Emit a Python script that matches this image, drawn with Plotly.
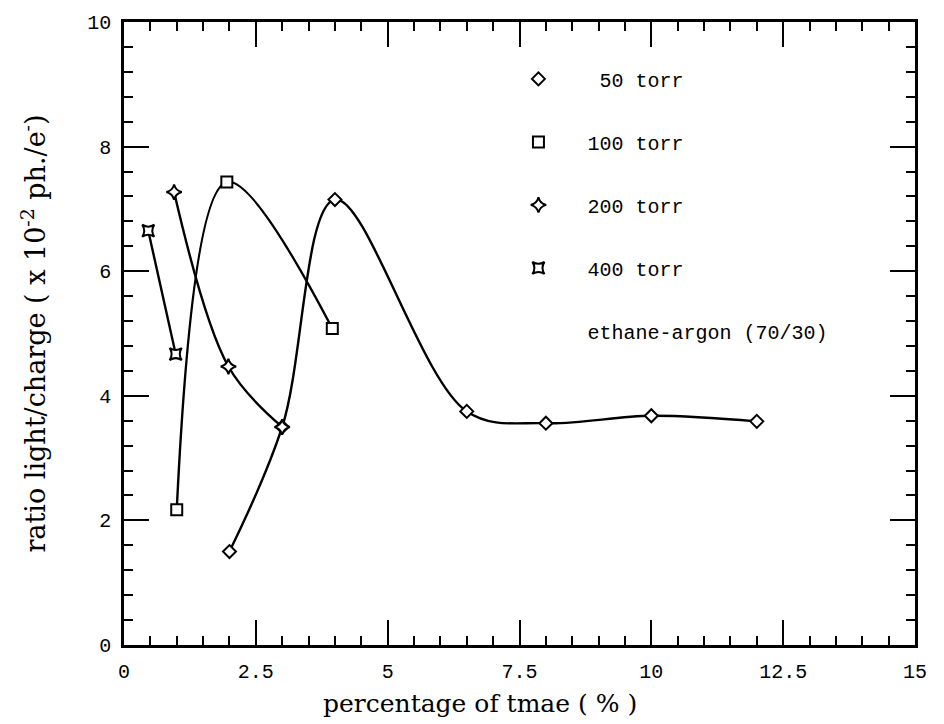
import plotly.graph_objects as go

# ---- data ----
x_50 = [2.0, 3.0, 4.0, 6.5, 8.0, 10.0, 12.0]
y_50 = [1.50, 3.50, 7.15, 3.75, 3.56, 3.68, 3.59]

x_100 = [1.0, 1.95, 3.95]
y_100 = [2.17, 7.43, 5.08]

x_200 = [0.95, 1.98, 3.0]
y_200 = [7.27, 4.47, 3.50]

x_400 = [0.46, 0.98]
y_400 = [6.65, 4.67]

names = ["\u00a050 torr", "100 torr", "200 torr", "400 torr"]
note = "ethane-argon (70/30)"
x_title = "percentage of tmae ( % )"
y_title = "ratio light/charge ( x 10<sup>-2</sup> ph./e<sup>-</sup>)"

series = [
    (x_50, y_50, "diamond", 10, "spline"),
    (x_100, y_100, "square", 11, "spline"),
    (x_200, y_200, "star-diamond", 11, "spline"),
    (x_400, y_400, "star-square", 11, "linear"),
]

fig = go.Figure()

for i, (xs, ys, sym, sz, shape) in enumerate(series):
    fig.add_trace(go.Scatter(
        x=xs, y=ys, mode="lines", showlegend=False,
        line=dict(color="black", width=2.4, shape=shape, smoothing=1.0),
        hoverinfo="skip"))
for i, (xs, ys, sym, sz, shape) in enumerate(series):
    fig.add_trace(go.Scatter(
        x=xs, y=ys, mode="markers", name=names[i], legendgroup=f"g{i}",
        marker=dict(symbol=sym, size=sz, color="white",
                    line=dict(color="black", width=2))))

fig.add_trace(go.Scatter(
    x=[None], y=[None], mode="markers", name=note, legendgroup="note",
    marker=dict(size=0, color="rgba(0,0,0,0)", line=dict(width=0))))

mono = "Liberation Mono"
serif = "DejaVu Serif"

fig.update_layout(
    width=944, height=724,
    margin=dict(l=124, r=29, t=20, b=79),
    paper_bgcolor="white", plot_bgcolor="white",
    showlegend=True,
    legend=dict(
        x=0.462, y=0.94, xanchor="left", yanchor="top",
        font=dict(family=mono, size=20, color="black"),
        traceorder="grouped", tracegroupgap=34,
        bgcolor="rgba(0,0,0,0)", borderwidth=0, itemwidth=88,
    ),
    annotations=[dict(
        text=x_title, xref="paper", yref="paper", x=0.45, y=-0.094,
        xanchor="center", yanchor="middle", showarrow=False,
        font=dict(family=serif, size=25, color="black"))],
)

fig.update_xaxes(
    range=[0, 15], tickvals=[0, 2.5, 5, 7.5, 10, 12.5, 15],
    ticktext=["0", "2.5", "5", "7.5", "10", "12.5", "15"],
    ticks="inside", ticklen=25, tickwidth=2, tickcolor="black",
    minor=dict(ticks="inside", dtick=0.5, ticklen=9, tickwidth=1.5, tickcolor="black", showgrid=False),
    showline=True, linecolor="black", linewidth=2.5, mirror="ticks",
    showgrid=False, zeroline=False, ticklabelstandoff=6,
    tickfont=dict(family=mono, size=20, color="black"),
)
fig.update_yaxes(
    range=[0, 10], tickvals=[0, 2, 4, 6, 8, 10],
    ticks="inside", ticklen=25, tickwidth=2, tickcolor="black",
    minor=dict(ticks="inside", dtick=0.4, ticklen=9, tickwidth=1.5, tickcolor="black", showgrid=False),
    showline=True, linecolor="black", linewidth=2.5, mirror="ticks",
    showgrid=False, zeroline=False, ticklabelstandoff=6,
    tickfont=dict(family=mono, size=20, color="black"),
    title=dict(text=y_title, font=dict(family=serif, size=27, color="black"), standoff=34),
)

fig.write_html("out.html")
